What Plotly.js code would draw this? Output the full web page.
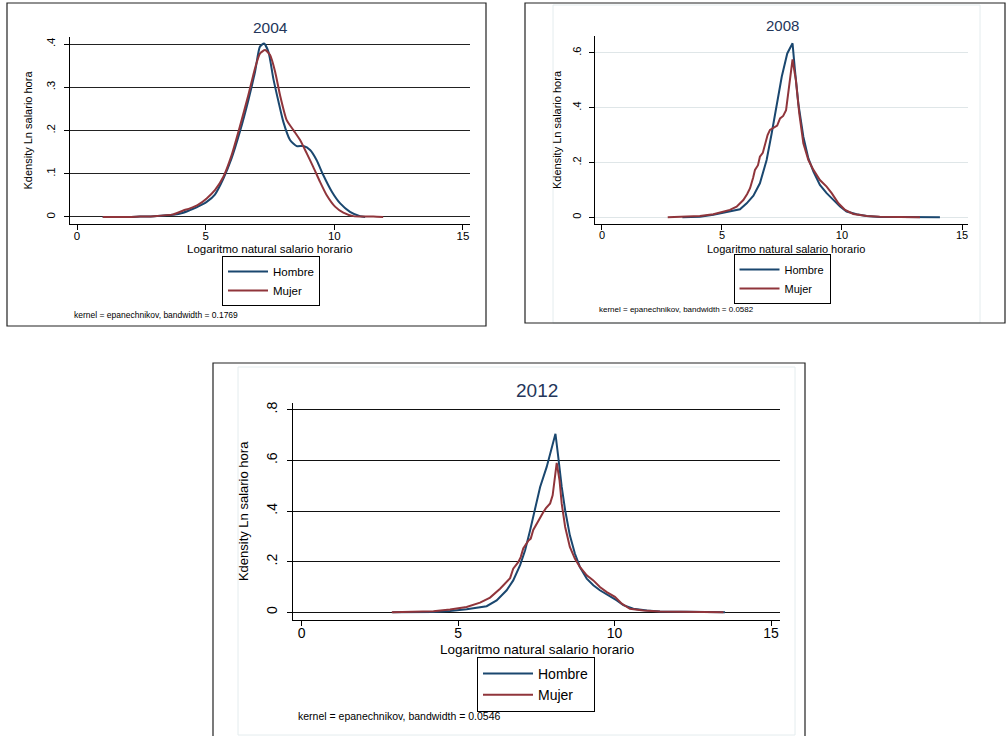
<!DOCTYPE html>
<html>
<head>
<meta charset="utf-8">
<script src="https://cdn.plot.ly/plotly-3.0.1.min.js"></script>
<style>html,body{margin:0;padding:0;background:#fff;}#chart{width:1006px;height:736px;}</style>
</head>
<body>
<div id="chart"></div>
<script>
// ---------------- data ----------------
const seriesNames = ['Hombre', 'Mujer'];
const panelTitles = ['2004', '2008', '2012'];
const notes = [
  'kernel = epanechnikov, bandwidth = 0.1769',
  'kernel = epanechnikov, bandwidth = 0.0582',
  'kernel = epanechnikov, bandwidth = 0.0546'
];
const xTitle = 'Logaritmo natural salario horario';
const yTitle = 'Kdensity Ln salario hora';
const xTicks = [0, 5, 10, 15];
const xTickText = ['0', '5', '10', '15'];
const yTicks2004 = [0, 0.1, 0.2, 0.3, 0.4];
const yTickText2004 = ['0', '.1', '.2', '.3', '.4'];
const yTicks2008 = [0, 0.2, 0.4, 0.6];
const yTickText2008 = ['0', '.2', '.4', '.6'];
const yTicks2012 = [0, 0.2, 0.4, 0.6, 0.8];
const yTickText2012 = ['0', '.2', '.4', '.6', '.8'];

const x2004Hombre = [1.0, 2.0, 2.45, 3.0, 3.74, 4.13, 4.39, 4.7, 5.04, 5.36, 5.69, 6.01, 6.33, 6.66, 6.92, 7.11, 7.27, 7.44, 7.63, 7.83, 8.02, 8.28, 8.54, 8.80, 9.06, 9.31, 9.57, 9.90, 10.22, 10.61, 11.0, 11.2];
const y2004Hombre = [0, 0, 0.001, 0.002, 0.005, 0.010, 0.016, 0.024, 0.035, 0.052, 0.089, 0.136, 0.197, 0.270, 0.336, 0.394, 0.401, 0.382, 0.320, 0.267, 0.220, 0.178, 0.164, 0.164, 0.155, 0.132, 0.097, 0.059, 0.032, 0.012, 0.002, 0];
const x2004Mujer = [1.0, 2.0, 2.45, 3.0, 3.74, 4.13, 4.39, 4.7, 5.04, 5.36, 5.69, 6.01, 6.33, 6.66, 6.92, 7.11, 7.31, 7.50, 7.70, 7.89, 8.15, 8.41, 8.67, 8.93, 9.18, 9.44, 9.70, 10.03, 10.35, 10.74, 11.2, 11.52, 11.9];
const y2004Mujer = [0, 0, 0.001, 0.002, 0.006, 0.015, 0.020, 0.028, 0.043, 0.062, 0.093, 0.143, 0.209, 0.282, 0.344, 0.378, 0.386, 0.375, 0.336, 0.282, 0.224, 0.201, 0.178, 0.147, 0.116, 0.082, 0.051, 0.024, 0.010, 0.002, 0.001, 0.001, 0];

const x2008Hombre = [3.35, 4.08, 4.64, 5.33, 5.75, 6.03, 6.31, 6.58, 6.86, 7.07, 7.28, 7.49, 7.72, 7.94, 8.04, 8.18, 8.39, 8.60, 8.81, 9.08, 9.36, 9.64, 9.92, 10.19, 10.61, 11.03, 11.58, 12.5, 13.3, 14.08];
const y2008Hombre = [0, 0.002, 0.009, 0.021, 0.029, 0.051, 0.079, 0.124, 0.209, 0.306, 0.416, 0.513, 0.598, 0.635, 0.537, 0.416, 0.294, 0.215, 0.167, 0.118, 0.088, 0.063, 0.039, 0.021, 0.011, 0.005, 0.001, 0.001, 0.001, 0];
const x2008Mujer = [2.74, 3.5, 4.08, 4.64, 5.33, 5.61, 5.89, 6.05, 6.17, 6.3, 6.375, 6.5, 6.58, 6.7, 6.79, 6.9, 7.0, 7.1, 7.21, 7.3, 7.42, 7.55, 7.67, 7.76, 7.83, 7.94, 8.08, 8.22, 8.39, 8.60, 8.81, 9.08, 9.36, 9.57, 9.85, 10.13, 10.47, 11.03, 11.58, 12.5, 13.25];
const y2008Mujer = [0, 0.002, 0.005, 0.011, 0.027, 0.039, 0.063, 0.085, 0.106, 0.145, 0.173, 0.19, 0.221, 0.235, 0.264, 0.30, 0.319, 0.325, 0.331, 0.335, 0.361, 0.37, 0.391, 0.45, 0.501, 0.576, 0.500, 0.379, 0.270, 0.209, 0.173, 0.136, 0.112, 0.088, 0.051, 0.027, 0.012, 0.005, 0.002, 0.001, 0];

const x2012Hombre = [2.9, 3.5, 4.21, 4.74, 5.27, 5.91, 6.23, 6.55, 6.76, 6.98, 7.14, 7.30, 7.46, 7.62, 7.83, 7.99, 8.11, 8.20, 8.31, 8.42, 8.57, 8.73, 8.89, 9.11, 9.32, 9.53, 9.75, 10.07, 10.28, 10.60, 11.03, 11.45, 12.3, 13.0, 13.53];
const y2012Hombre = [0, 0.001, 0.001, 0.005, 0.012, 0.024, 0.047, 0.087, 0.126, 0.186, 0.245, 0.324, 0.409, 0.495, 0.574, 0.653, 0.705, 0.613, 0.495, 0.403, 0.304, 0.232, 0.179, 0.133, 0.107, 0.087, 0.071, 0.047, 0.028, 0.014, 0.007, 0.003, 0.002, 0.001, 0];
const x2012Mujer = [2.88, 3.5, 4.21, 4.74, 5.27, 5.70, 6.02, 6.34, 6.55, 6.66, 6.76, 6.92, 7.0, 7.08, 7.24, 7.32, 7.40, 7.56, 7.72, 7.80, 7.94, 8.02, 8.10, 8.15, 8.24, 8.31, 8.42, 8.57, 8.73, 8.89, 9.11, 9.32, 9.53, 9.75, 10.01, 10.23, 10.49, 10.92, 11.45, 12.3, 13.0, 13.48];
const y2012Mujer = [0, 0.002, 0.004, 0.011, 0.021, 0.038, 0.058, 0.093, 0.120, 0.135, 0.172, 0.198, 0.218, 0.252, 0.282, 0.291, 0.325, 0.362, 0.395, 0.410, 0.430, 0.462, 0.548, 0.590, 0.521, 0.429, 0.337, 0.258, 0.212, 0.179, 0.146, 0.126, 0.100, 0.080, 0.061, 0.034, 0.014, 0.007, 0.003, 0.002, 0.001, 0];

// ---------------- styling ----------------
const FONT = '"Liberation Sans", Arial, Helvetica, sans-serif';
const NAVY = '#1a476f';
const MAROON = '#90353b';
const TITLE_COL = '#24365a';
const W = 1006, H = 736;
const px = v => v / W;
const py = v => 1 - v / H;

function line(xs, ys, name, color, ax, leg, shape) {
  return {
    type: 'scatter', mode: 'lines', x: xs, y: ys, name: name,
    xaxis: ax[0], yaxis: ax[1], legend: leg,
    line: {color: color, width: 2, shape: shape || 'linear', smoothing: 0.6},
    hoverinfo: 'skip'
  };
}

const data = [
  line(x2004Hombre, y2004Hombre, seriesNames[0], NAVY, ['x', 'y'], 'legend', 'spline'),
  line(x2004Mujer, y2004Mujer, seriesNames[1], MAROON, ['x', 'y'], 'legend', 'spline'),
  line(x2008Hombre, y2008Hombre, seriesNames[0], NAVY, ['x2', 'y2'], 'legend2'),
  line(x2008Mujer, y2008Mujer, seriesNames[1], MAROON, ['x2', 'y2'], 'legend2'),
  line(x2012Hombre, y2012Hombre, seriesNames[0], NAVY, ['x3', 'y3'], 'legend3'),
  line(x2012Mujer, y2012Mujer, seriesNames[1], MAROON, ['x3', 'y3'], 'legend3')
];

function xAxis(dom, range, anchor, fs, tls) {
  return {
    domain: dom, range: range, anchor: anchor,
    tickvals: xTicks, ticktext: xTickText,
    ticks: 'outside', ticklen: 5, tickcolor: '#000', tickwidth: 1,
    ticklabelstandoff: tls,
    showline: true, linecolor: '#000', linewidth: 1,
    showgrid: false, zeroline: false,
    tickfont: {family: FONT, size: fs, color: '#000'},
    fixedrange: true
  };
}
function yAxis(dom, range, anchor, tv, tt, fs, tfs, gridcolor, so) {
  return {
    domain: dom, range: range, anchor: anchor,
    tickvals: tv, ticktext: tt, tickangle: -90,
    ticks: 'outside', ticklen: 5, tickcolor: '#000', tickwidth: 1,
    ticklabelstandoff: 4,
    showline: true, linecolor: '#000', linewidth: 1,
    showgrid: true, gridcolor: gridcolor, gridwidth: 1, zeroline: false,
    tickfont: {family: FONT, size: fs, color: '#000'},
    title: {text: yTitle, font: {family: FONT, size: tfs, color: '#000'}, standoff: so},
    fixedrange: true
  };
}

function legendBox(cx, top, fs, iw) {
  return {
    x: px(cx), y: py(top), xanchor: 'center', yanchor: 'top',
    xref: 'paper', yref: 'paper',
    bgcolor: '#fff', bordercolor: '#000', borderwidth: 1,
    font: {family: FONT, size: fs, color: '#000'},
    itemwidth: iw, orientation: 'v', tracegroupgap: 0
  };
}

function rect(x0, y0, x1, y1, color, w) {
  return {type: 'rect', xref: 'paper', yref: 'paper',
    x0: px(x0), x1: px(x1), y0: py(y1), y1: py(y0),
    line: {color: color, width: w}, fillcolor: 'rgba(0,0,0,0)', layer: 'below'};
}

function text(t, x, y, fs, anchor, color) {
  return {text: t, xref: 'paper', yref: 'paper', x: px(x), y: py(y),
    xanchor: anchor, yanchor: 'middle', showarrow: false,
    font: {family: FONT, size: fs, color: color || '#000'}};
}

const layout = {
  width: W, height: H,
  margin: {l: 0, r: 0, t: 0, b: 0},
  paper_bgcolor: '#fff', plot_bgcolor: '#fff',
  showlegend: true,
  xaxis: xAxis([px(70), px(470)], [-0.272, 15.274], 'y', 11.5, -4),
  yaxis: yAxis([py(224), py(37)], [-0.0162, 0.4162], 'x', yTicks2004, yTickText2004, 11.5, 11, '#222', 10),
  xaxis2: xAxis([px(595), px(968)], [-0.29, 15.25], 'y2', 11, -4),
  yaxis2: yAxis([py(224), py(36)], [-0.0245, 0.6617], 'x2', yTicks2008, yTickText2008, 11, 11, '#dfe6e8', 6),
  xaxis3: xAxis([px(293), px(780)], [-0.278, 15.286], 'y3', 14, -5),
  yaxis3: yAxis([py(620), py(402.7)], [-0.0304, 0.8276], 'x3', yTicks2012, yTickText2012, 14, 13, '#111', 12),
  legend: legendBox(271, 256, 11.5, 40),
  legend2: legendBox(782, 254, 11, 40),
  legend3: legendBox(536, 657, 14, 50),
  shapes: [
    rect(553, 5, 980, 323, '#e4ecee', 1),
    rect(238, 367, 795, 735, '#e4ecee', 1),
    rect(7, 3, 486, 326, '#222', 1.2),
    rect(525, 3, 1005, 323, '#222', 1.2),
    rect(213, 363, 805, 745, '#222', 1.2)
  ],
  annotations: [
    text(panelTitles[0], 270, 27, 15.5, 'center', TITLE_COL),
    text(panelTitles[1], 782, 26, 15, 'center', TITLE_COL),
    text(panelTitles[2], 537, 390, 19, 'center', TITLE_COL),
    text(xTitle, 270, 249, 11.5, 'center'),
    text(xTitle, 786, 249, 11, 'center'),
    text(xTitle, 536.5, 649, 13.5, 'center'),
    text(notes[0], 72, 315, 8.5, 'left'),
    text(notes[1], 597, 309, 8, 'left'),
    text(notes[2], 296, 716, 10.5, 'left')
  ]
};

Plotly.newPlot('chart', data, layout, {staticPlot: true, displayModeBar: false});
</script>
</body>
</html>
